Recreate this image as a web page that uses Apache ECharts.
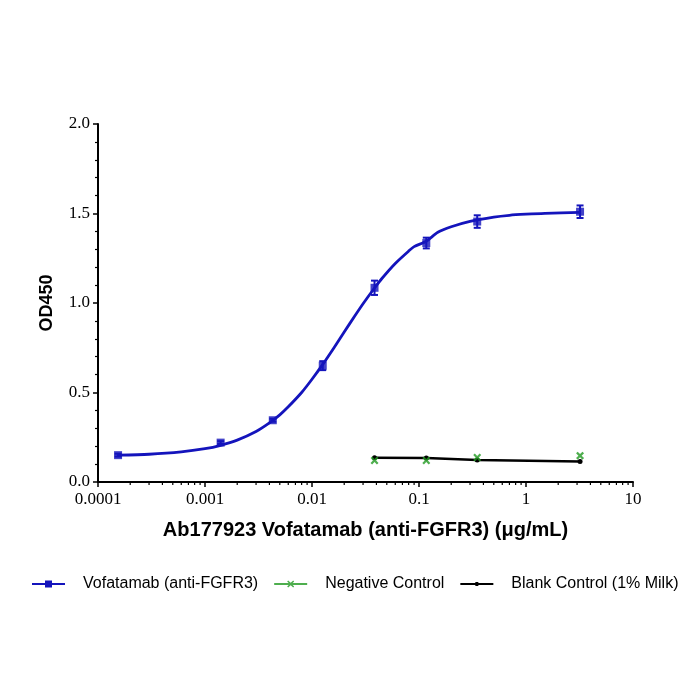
<!DOCTYPE html>
<html>
<head>
<meta charset="utf-8">
<script src="https://cdn.jsdelivr.net/npm/echarts@6/dist/echarts.min.js"></script>
<style>
  html, body { margin: 0; padding: 0; background: #fff; }
  #chart { width: 700px; height: 700px; }
</style>
</head>
<body>
<div id="chart"></div>
<script>
// measured points (mean +/- sd)
var concBlue = [0.000154, 0.0014, 0.0043, 0.0126, 0.0384, 0.117, 0.35, 3.2];
var odBlue = [0.15, 0.22, 0.345, 0.65, 1.085, 1.335, 1.455, 1.51];
var sdBlue = [0.008, 0.008, 0.008, 0.025, 0.04, 0.03, 0.035, 0.035];

// fitted curve
var fitConc = [0.000154, 0.0003, 0.0006, 0.001, 0.0014, 0.002, 0.003, 0.004, 0.005, 0.006, 0.008, 0.01, 0.0126, 0.016, 0.02, 0.025, 0.03, 0.0384, 0.045, 0.06, 0.08, 0.09, 0.117, 0.15, 0.2, 0.3, 0.5, 0.7, 1.0, 1.5, 3.2];
var fitOd = [0.15, 0.155, 0.168, 0.186, 0.205, 0.234, 0.282, 0.33, 0.375, 0.42, 0.5, 0.574, 0.657, 0.749, 0.838, 0.926, 0.996, 1.084, 1.137, 1.221, 1.29, 1.315, 1.345, 1.395, 1.426, 1.456, 1.48, 1.49, 1.496, 1.501, 1.506];

var concCtrl = [0.0384, 0.117, 0.35, 3.2];
var odNeg = [0.12, 0.12, 0.137, 0.147];
var odBlank = [0.136, 0.134, 0.123, 0.115];

var xTickLabels = ['0.0001', '0.001', '0.01', '0.1', '1', '10'];
var yTickLabels = ['0.0', '0.5', '1.0', '1.5', '2.0'];

var names = ['Vofatamab (anti-FGFR3)', 'Negative Control', 'Blank Control (1% Milk)'];
var blue = '#1414bc', green = '#229a22', black = '#000000';

function pairs(xs, ys) {
  return xs.map(function (x, i) { return [x, ys[i]]; });
}

// log minor tick positions (2..9 in each decade)
var minorX = [];
for (var d = -4; d < 1; d++) {
  for (var k = 2; k < 10; k++) minorX.push([k * Math.pow(10, d), 0]);
}

var chart = echarts.init(document.getElementById('chart'));
var option = {
  animation: false,
  backgroundColor: '#fff',
  grid: { left: 98, right: 67, top: 124, bottom: 218 },
  legend: {
    left: 27,
    top: 571,
    itemGap: 16,
    itemWidth: 33,
    itemHeight: 7,
    textStyle: { fontFamily: 'Liberation Sans', fontSize: 16, color: '#000', padding: [0, 0, 0, 13] },
    data: [
      { name: names[0], icon: 'path://M0,2.5H13V0H20V2.5H33V4.5H20V7H13V4.5H0Z' },
      { name: names[1], icon: 'path://M0,2.6H33V4.4H0Z M14,0L16.5,2.2L19,0L20,1L17.6,3.5L20,6L19,7L16.5,4.8L14,7L13,6L15.4,3.5L13,1Z' },
      { name: names[2], icon: 'path://M0,2.6H33V4.4H0Z M15,1.5H18V5.5H15Z' }
    ]
  },
  xAxis: {
    type: 'log',
    logBase: 10,
    min: 0.0001,
    max: 10,
    splitNumber: 5,
    name: 'Ab177923 Vofatamab (anti-FGFR3) (μg/mL)',
    nameLocation: 'middle',
    nameGap: 38,
    nameTextStyle: { fontFamily: 'Liberation Sans', fontWeight: 'bold', fontSize: 20, color: '#000' },
    axisLine: { lineStyle: { color: '#000', width: 2 } },
    axisTick: { show: true, length: 5, lineStyle: { color: '#000', width: 1.5 } },
    axisLabel: {
      fontFamily: 'Liberation Serif', fontSize: 17, color: '#000', margin: 9,
      formatter: function (v) {
        var i = Math.round(Math.log10(v)) + 4;
        return xTickLabels[i] !== undefined ? xTickLabels[i] : '';
      }
    },
    splitLine: { show: false }
  },
  yAxis: {
    type: 'value',
    min: 0,
    max: 2,
    interval: 0.5,
    name: 'OD450',
    nameLocation: 'middle',
    nameGap: 42,
    nameTextStyle: { fontFamily: 'Liberation Sans', fontWeight: 'bold', fontSize: 18, color: '#000' },
    axisLine: { show: true, lineStyle: { color: '#000', width: 2 } },
    axisTick: { show: true, length: 5, lineStyle: { color: '#000', width: 1.5 } },
    minorTick: { show: true, splitNumber: 5, length: 3, lineStyle: { color: '#000', width: 1.2 } },
    axisLabel: {
      fontFamily: 'Liberation Serif', fontSize: 17, color: '#000', margin: 8,
      formatter: function (v) { return yTickLabels[Math.round(v / 0.5)]; }
    },
    splitLine: { show: false }
  },
  series: [
    {
      name: names[0],
      type: 'line',
      data: pairs(fitConc, fitOd),
      smooth: 0.25,
      showSymbol: false,
      symbol: 'none',
      lineStyle: { color: blue, width: 2.8, join: 'round' },
      itemStyle: { color: blue },
      z: 2
    },
    {
      name: names[0],
      type: 'scatter',
      data: pairs(concBlue, odBlue),
      symbol: 'rect',
      symbolSize: 8,
      itemStyle: { color: blue },
      z: 4
    },
    {
      name: names[0],
      type: 'custom',
      data: concBlue.map(function (x, i) { return [x, odBlue[i], sdBlue[i]]; }),
      encode: { x: 0, y: 1 },
      z: 5,
      renderItem: function (params, api) {
        var x = api.value(0), y = api.value(1), sd = api.value(2);
        var top = api.coord([x, y + sd]);
        var bot = api.coord([x, y - sd]);
        var w = 3.5;
        var st = { stroke: blue, lineWidth: 2 };
        return {
          type: 'group',
          children: [
            { type: 'line', shape: { x1: top[0], y1: top[1], x2: bot[0], y2: bot[1] }, style: st },
            { type: 'line', shape: { x1: top[0] - w, y1: top[1], x2: top[0] + w, y2: top[1] }, style: st },
            { type: 'line', shape: { x1: bot[0] - w, y1: bot[1], x2: bot[0] + w, y2: bot[1] }, style: st }
          ]
        };
      }
    },
    {
      name: names[2],
      type: 'line',
      data: pairs(concCtrl, odBlank),
      symbol: 'circle',
      symbolSize: 5,
      lineStyle: { color: black, width: 2.5 },
      itemStyle: { color: black },
      z: 3
    },
    {
      name: names[1],
      type: 'scatter',
      data: pairs(concCtrl, odNeg),
      symbol: 'path://M2,0L5,3L8,0L10,2L7,5L10,8L8,10L5,7L2,10L0,8L3,5L0,2Z',
      symbolSize: 8,
      itemStyle: { color: green },
      z: 4
    },
    {
      type: 'custom',
      data: minorX,
      encode: { x: 0, y: 1 },
      clip: false,
      silent: true,
      z: 6,
      renderItem: function (params, api) {
        var p = api.coord([api.value(0), 0]);
        return {
          type: 'line',
          shape: { x1: p[0], y1: p[1], x2: p[0], y2: p[1] + 3 },
          style: { stroke: '#000', lineWidth: 1.2 }
        };
      }
    }
  ]
};
chart.setOption(option);
</script>
</body>
</html>
